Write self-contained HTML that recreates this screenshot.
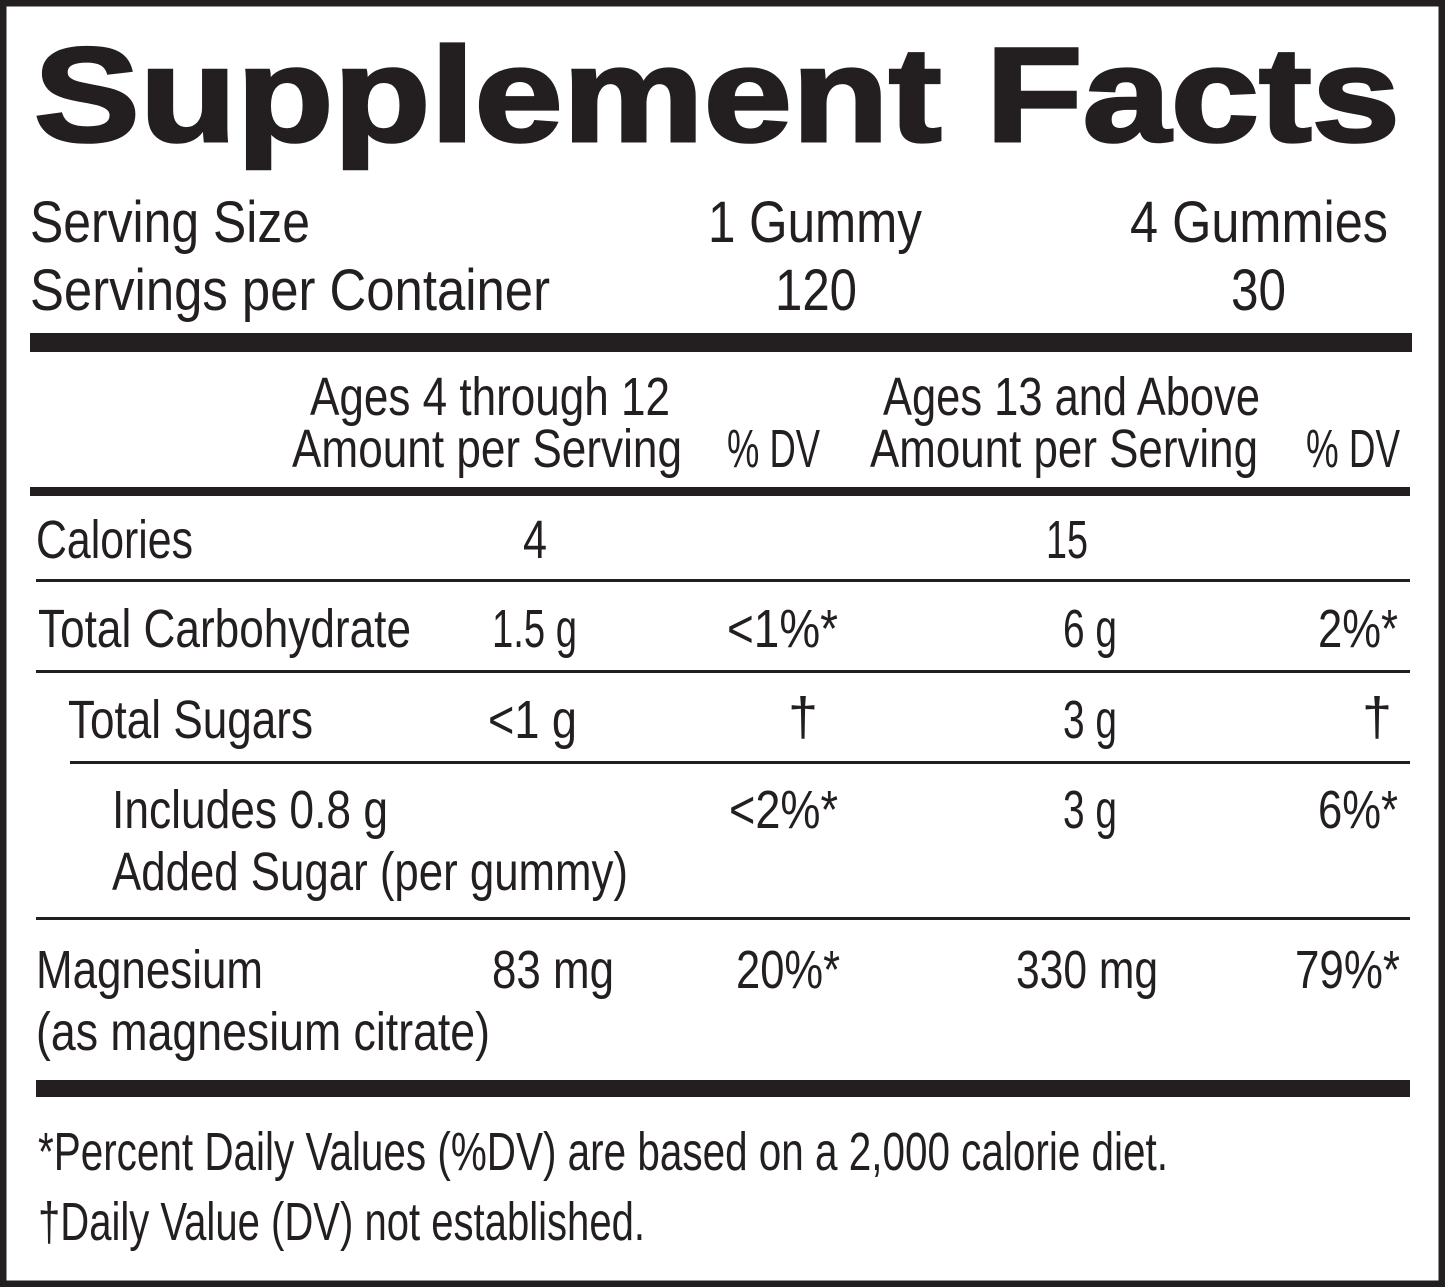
<!DOCTYPE html>
<html><head><meta charset="utf-8"><style>
html,body{margin:0;padding:0;background:#fff}
svg{display:block}
text{font-family:"Liberation Sans Narrow","Liberation Sans",sans-serif;fill:#231f20;font-size:54px}
text.big{font-size:58px}
text.title{font-family:"Liberation Sans",sans-serif;font-size:134px;font-weight:bold;stroke:#231f20;stroke-width:3px}
</style></head><body>
<svg width="1445" height="1287" viewBox="0 0 1445 1287">
<rect x="3" y="3" width="1439" height="1281" fill="#fff" stroke="#231f20" stroke-width="7"/>
<text class="title" x="34" y="141" textLength="1366" lengthAdjust="spacingAndGlyphs">Supplement Facts</text>

<g>
<text class="big" x="30" y="242" textLength="280" lengthAdjust="spacingAndGlyphs">Serving Size</text>
<text class="big" x="708" y="242" textLength="214" lengthAdjust="spacingAndGlyphs">1 Gummy</text>
<text class="big" x="1130" y="242" textLength="258" lengthAdjust="spacingAndGlyphs">4 Gummies</text>
<text class="big" x="30" y="310" textLength="520" lengthAdjust="spacingAndGlyphs">Servings per Container</text>
<text class="big" x="775" y="310" textLength="82" lengthAdjust="spacingAndGlyphs">120</text>
<text class="big" x="1231" y="310" textLength="55" lengthAdjust="spacingAndGlyphs">30</text>
</g>
<rect x="30" y="333" width="1382" height="19" fill="#231f20"/>

<g>
<text x="310" y="415" textLength="360" lengthAdjust="spacingAndGlyphs">Ages 4 through 12</text>
<text x="292" y="467" textLength="390" lengthAdjust="spacingAndGlyphs">Amount per Serving</text>
<text x="727" y="467" textLength="93" lengthAdjust="spacingAndGlyphs">% DV</text>
<text x="883" y="415" textLength="377" lengthAdjust="spacingAndGlyphs">Ages 13 and Above</text>
<text x="870" y="467" textLength="388" lengthAdjust="spacingAndGlyphs">Amount per Serving</text>
<text x="1306" y="467" textLength="94" lengthAdjust="spacingAndGlyphs">% DV</text>
</g>
<rect x="30" y="487" width="1380" height="9" fill="#231f20"/>

<g>
<text x="36" y="558" textLength="157" lengthAdjust="spacingAndGlyphs">Calories</text>
<text x="523" y="558" textLength="24" lengthAdjust="spacingAndGlyphs">4</text>
<text x="1046" y="558" textLength="42" lengthAdjust="spacingAndGlyphs">15</text>
</g>
<rect x="36" y="579" width="1374" height="3" fill="#231f20"/>

<g>
<text x="38" y="647" textLength="373" lengthAdjust="spacingAndGlyphs">Total Carbohydrate</text>
<text x="492" y="647" textLength="85" lengthAdjust="spacingAndGlyphs">1.5 g</text>
<text x="727" y="647" textLength="111" lengthAdjust="spacingAndGlyphs">&lt;1%*</text>
<text x="1063" y="647" textLength="54" lengthAdjust="spacingAndGlyphs">6 g</text>
<text x="1318" y="647" textLength="80" lengthAdjust="spacingAndGlyphs">2%*</text>
</g>
<rect x="36" y="670" width="1374" height="3" fill="#231f20"/>

<g>
<text x="68" y="738" textLength="245" lengthAdjust="spacingAndGlyphs">Total Sugars</text>
<text x="488" y="738" textLength="89" lengthAdjust="spacingAndGlyphs">&lt;1 g</text>
<text x="803" y="735" text-anchor="middle">†</text>
<text x="1063" y="738" textLength="54" lengthAdjust="spacingAndGlyphs">3 g</text>
<text x="1377" y="735" text-anchor="middle">†</text>
</g>
<rect x="70" y="761" width="1340" height="3" fill="#231f20"/>

<g>
<text x="112" y="828" textLength="276" lengthAdjust="spacingAndGlyphs">Includes 0.8 g</text>
<text x="729" y="828" textLength="109" lengthAdjust="spacingAndGlyphs">&lt;2%*</text>
<text x="1063" y="828" textLength="54" lengthAdjust="spacingAndGlyphs">3 g</text>
<text x="1318" y="828" textLength="80" lengthAdjust="spacingAndGlyphs">6%*</text>
<text x="112" y="890" textLength="516" lengthAdjust="spacingAndGlyphs">Added Sugar (per gummy)</text>
</g>
<rect x="36" y="917" width="1374" height="3" fill="#231f20"/>

<g>
<text x="36" y="988" textLength="227" lengthAdjust="spacingAndGlyphs">Magnesium</text>
<text x="492" y="988" textLength="122" lengthAdjust="spacingAndGlyphs">83 mg</text>
<text x="736" y="988" textLength="104" lengthAdjust="spacingAndGlyphs">20%*</text>
<text x="1016" y="988" textLength="142" lengthAdjust="spacingAndGlyphs">330 mg</text>
<text x="1295" y="988" textLength="105" lengthAdjust="spacingAndGlyphs">79%*</text>
<text x="36" y="1050" textLength="454" lengthAdjust="spacingAndGlyphs">(as magnesium citrate)</text>
</g>
<rect x="36" y="1080" width="1374" height="17" fill="#231f20"/>

<g>
<text x="38" y="1170" textLength="1130" lengthAdjust="spacingAndGlyphs">*Percent Daily Values (%DV) are based on a 2,000 calorie diet.</text>
<text x="38" y="1240" textLength="607" lengthAdjust="spacingAndGlyphs">†Daily Value (DV) not established.</text>
</g>
</svg>
</body></html>
